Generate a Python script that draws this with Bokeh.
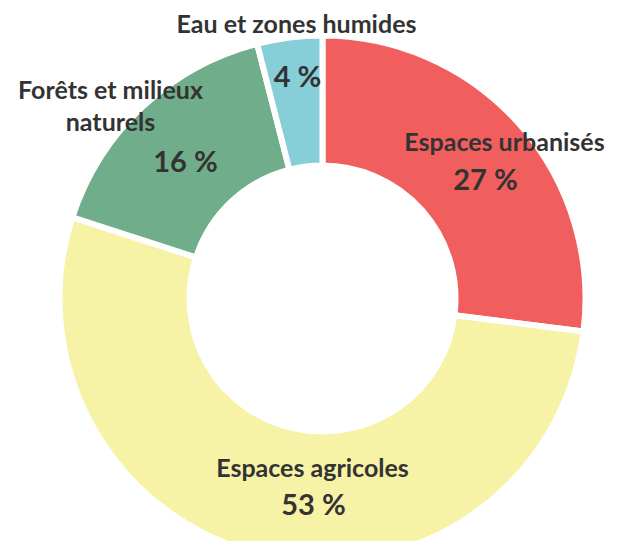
from bokeh.plotting import figure
from bokeh.models import Range1d, ColumnDataSource
from bokeh.embed import file_html
from bokeh.resources import INLINE
from bokeh.core.properties import value
import math

categories = ["Espaces urbanisés", "Espaces agricoles", "Forêts et milieux naturels", "Eau et zones humides"]
shares = [27, 53, 16, 4]
colors = ["#F05E5E", "#F6F2A6", "#70AD8A", "#86CFD8"]

# label layout (pixel coords of page image)
name_lines = [["Espaces urbanisés"], ["Espaces agricoles"], ["Forêts et milieux", "naturels"], ["Eau et zones humides"]]
name_pos = [(504, 140), (312, 466), (110, 88), (296, 22)]
pct_pos = [(485, 178), (313, 503), (185, 160), (297, 75)]

W, H = 611, 541
p = figure(width=W, height=H, output_backend="svg", toolbar_location=None,
           x_range=Range1d(0, W), y_range=Range1d(549 - H, 549),
           min_border=0, outline_line_color=None)
p.axis.visible = False
p.grid.visible = False
p.background_fill_color = "white"

cx, cy = 322, 549 - 298
total = sum(shares)
starts, ends = [], []
acc = 0
for s in shares:
    a0 = math.pi / 2 - 2 * math.pi * acc / total
    acc += s
    a1 = math.pi / 2 - 2 * math.pi * acc / total
    starts.append(a1)
    ends.append(a0)

src = ColumnDataSource(dict(x=[cx] * 4, y=[cy] * 4, start=starts, end=ends, color=colors))
p.annular_wedge(x="x", y="y", inner_radius=133, outer_radius=263, start_angle="start", end_angle="end",
                fill_color="color", line_color="white", line_width=6, source=src)

font = value("Lato")
tx, ty, tt = [], [], []
for lines, (x, y) in zip(name_lines, name_pos):
    for i, ln in enumerate(lines):
        tx.append(x)
        ty.append(549 - (y + 32 * i))
        tt.append(ln)
p.text(x=tx, y=ty, text=tt, text_font=font, text_font_style="bold", text_font_size="25px",
       text_color="#333333", text_align="center", text_baseline="middle")

px = [x for x, y in pct_pos]
py = [549 - y for x, y in pct_pos]
pt = [f"{s} %" for s in shares]
p.text(x=px, y=py, text=pt, text_font=font, text_font_style="bold", text_font_size="29px",
       text_color="#333333", text_align="center", text_baseline="middle")

open("out.html", "w").write(file_html(p, INLINE))
